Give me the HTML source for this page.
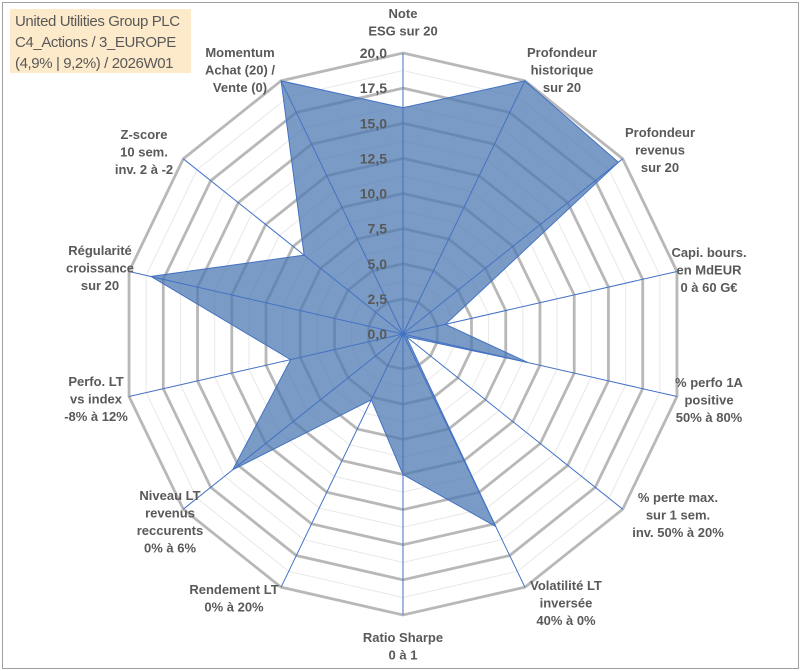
<!DOCTYPE html>
<html><head><meta charset="utf-8"><style>
body{margin:0;background:#fff;}
#wrap{position:relative;width:801px;height:671px;overflow:hidden;background:#fff;}
#frame{position:absolute;left:2px;top:2px;width:795px;height:665px;border:1px solid #a0a0a0;}
#title{position:absolute;left:10px;top:9px;width:181px;height:64px;background:#fdeacb;color:#595959;font-family:"Liberation Sans",sans-serif;font-size:15px;line-height:21px;padding:2px 0 0 5px;box-sizing:border-box;letter-spacing:-0.4px;}
svg{position:absolute;left:0;top:0;}
</style></head><body>
<div id="wrap">
<div id="frame"></div>
<svg id="chart" width="801" height="671"></svg>
<div id="title">United Utilities Group PLC<br>C4_Actions / 3_EUROPE<br>(4,9% | 9,2%) / 2026W01</div>
</div>
<script>
const categories=[["Note","ESG sur 20"],["Profondeur","historique","sur 20"],["Profondeur","revenus","sur 20"],["Capi. bours.","en MdEUR","0 à 60 G€"],["% perfo 1A","positive","50% à 80%"],["% perte max.","sur 1 sem.","inv. 50% à 20%"],["Volatilité LT","inversée","40% à 0%"],["Ratio Sharpe","0 à 1"],["Rendement LT","0% à 20%"],["Niveau LT","revenus","reccurents","0% à 6%"],["Perfo. LT","vs index","-8% à 12%"],["Régularité","croissance","sur 20"],["Z-score","10 sem.","inv. 2 à -2"],["Momentum","Achat (20) /","Vente (0)"]];
const values=[16.1,20,19.6,3.1,9.1,0.3,15.2,10.0,5.2,15.5,8.2,18.4,9.0,20];
const tickLabels=["0,0","2,5","5,0","7,5","10,0","12,5","15,0","17,5","20,0"];
const maxVal=20;
const labelPos=[[403,18],[562,57],[660,137],[709,257],[709,387],[678,502],[566,590],[403,642],[234,594],[170,500],[96,386],[100,255],[144,139],[240,57]];

const svg=document.getElementById('chart');
const NS='http://www.w3.org/2000/svg';
const cx=403,cy=334,R=281,N=categories.length;
function ang(i){return 2*Math.PI*i/N;}
function pt(i,v){const r=v/maxVal*R;return [cx+r*Math.sin(ang(i)),cy-r*Math.cos(ang(i))];}
function mk(t,a){const e=document.createElementNS(NS,t);for(const k in a)e.setAttribute(k,a[k]);svg.appendChild(e);return e;}
for(let s=1;s<16;s+=2){const v=s*1.25;const p=[];for(let i=0;i<N;i++)p.push(pt(i,v).join(','));
const e=mk('polygon',{points:p.join(' '),fill:'none',stroke:'#e8e8e8','stroke-width':1});

}
for(let k=1;k<tickLabels.length;k++){const v=k*2.5;const p=[];for(let i=0;i<N;i++)p.push(pt(i,v).join(','));
const e=mk('polygon',{points:p.join(' '),fill:'none',stroke:'#b8b8b8','stroke-width':2.8});

}
const sp=values.map((v,i)=>pt(i,v).join(','));
const poly=mk('polygon',{points:sp.join(' '),fill:'rgba(78,122,178,0.75)',stroke:'#4472c4','stroke-width':1});


for(let i=0;i<N;i++){const p=pt(i,maxVal);
const e=mk('line',{x1:cx,y1:cy,x2:p[0],y2:p[1],stroke:'#4472c4','stroke-width':1});

}
tickLabels.forEach((t,k)=>{const p=pt(0,k*2.5);
const e=mk('text',{x:cx-16,y:p[1]+5,'text-anchor':'end','font-family':'Liberation Sans, sans-serif','font-size':14,'font-weight':'bold',fill:'#595959'});
e.textContent=t;

});
categories.forEach((lines,i)=>{const [x,y]=labelPos[i];
const e=mk('text',{x:x,y:y,'text-anchor':'middle','font-family':'Liberation Sans, sans-serif','font-size':13,'font-weight':'bold',fill:'#595959'});
lines.forEach((l,j)=>{const ts=document.createElementNS(NS,'tspan');ts.setAttribute('x',x);ts.setAttribute('dy',j?17.5:0);ts.textContent=l;e.appendChild(ts);});

});
</script>
</body></html>
